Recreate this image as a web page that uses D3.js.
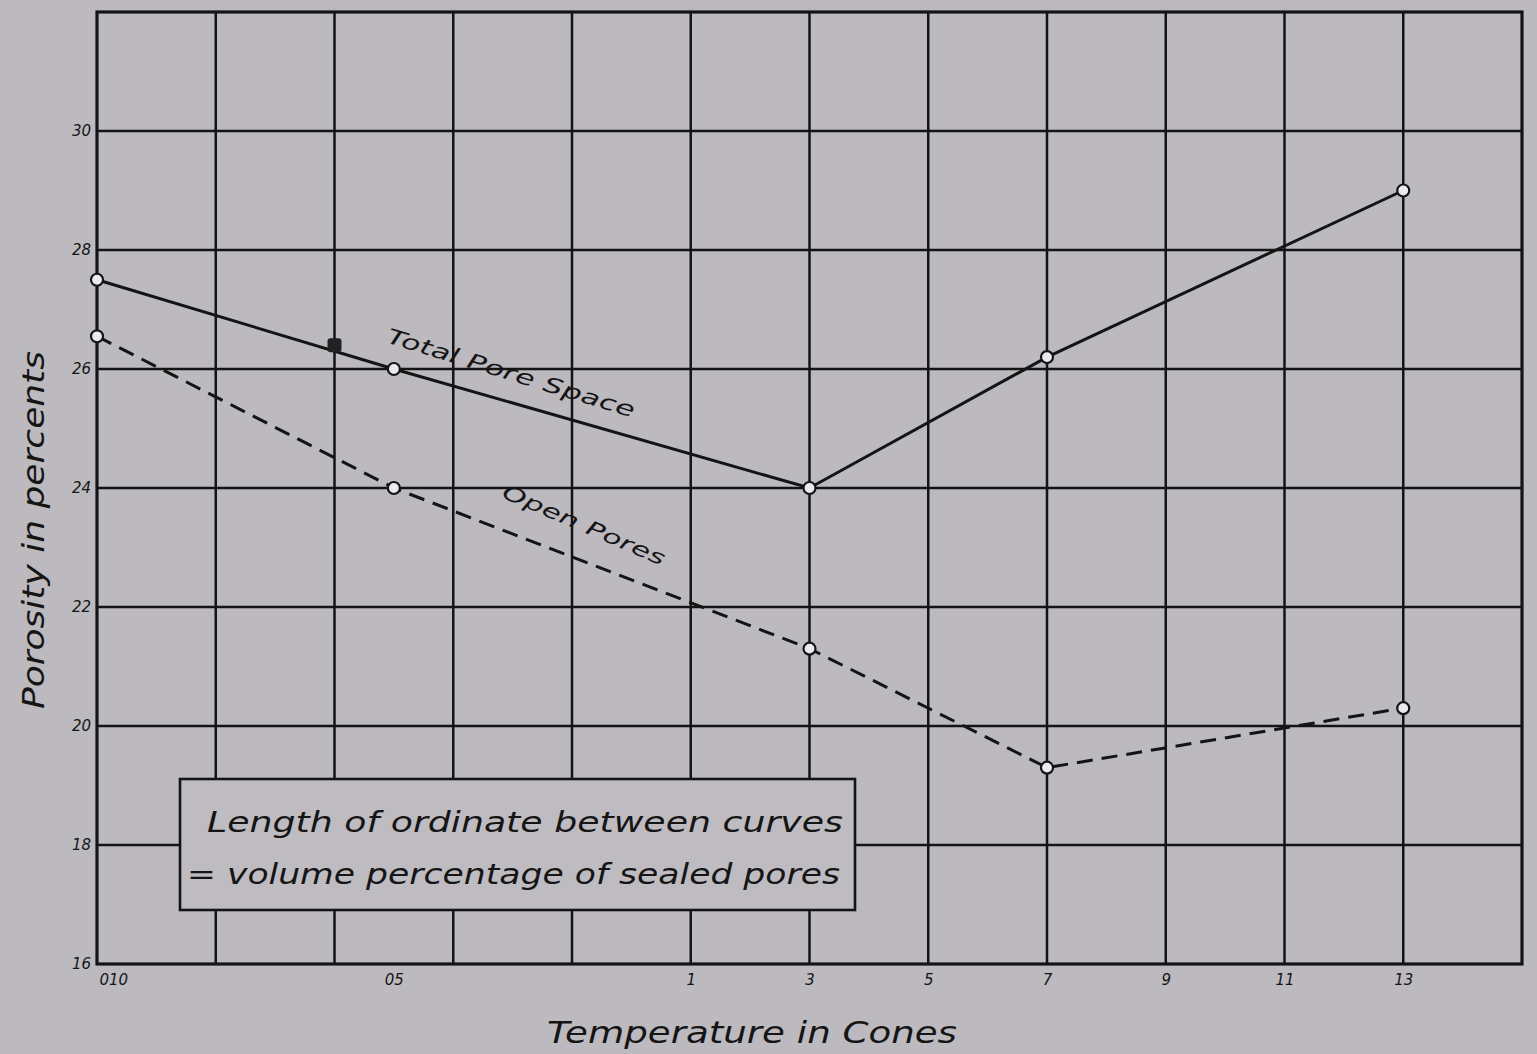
<!DOCTYPE html>
<html>
<head>
<meta charset="utf-8">
<script src="https://cdn.jsdelivr.net/npm/d3@7"></script>
<style>
  html, body { margin: 0; padding: 0; background: #bcb9bf; }
  svg { display: block; }
  text { font-family: "DejaVu Sans", sans-serif; font-style: italic; fill: #151515; }
</style>
</head>
<body>
<svg id="chart" width="1537" height="1054"></svg>
<script>
// ---- data ----
const conePositions = [0, 2.5, 6, 8, 11];           // position on cone axis (010, 05, 3, 7, 13)
const coneNames     = ["010", "05", "3", "7", "13"];
const totalPoreSpace = [27.5, 26.0, 24.0, 26.2, 29.0];
const openPores      = [26.55, 24.0, 21.3, 19.3, 20.3];
const extraPointPos  = [2];      // cone 06
const extraPointVal  = [26.4];   // filled marker on total curve
const xTickPositions = [0, 2.5, 5, 6, 7, 8, 9, 10, 11];
const xTickLabels    = ["010", "05", "1", "3", "5", "7", "9", "11", "13"];
const yTickValues    = [16, 18, 20, 22, 24, 26, 28, 30];
const yTickLabels    = ["16", "18", "20", "22", "24", "26", "28", "30"];
const xTitle = "Temperature in Cones";
const yTitle = "Porosity in percents";
const noteLines = ["Length of ordinate between curves", "= volume percentage of sealed pores"];
const seriesNames = ["Total Pore Space", "Open Pores"];

// ---- layout ----
const svg = d3.select("#chart");
const L = 97, R = 1522, T = 12, B = 964;
const x = d3.scaleLinear().domain([0, 12]).range([L, R]);
const y = d3.scaleLinear().domain([16, 32]).range([B, T]);
const ink = "#141414";

// grid
const grid = svg.append("g");
grid.selectAll("line.v").data(d3.range(1, 12)).join("line")
  .attr("x1", d => x(d)).attr("x2", d => x(d)).attr("y1", T).attr("y2", B)
  .attr("stroke", ink).attr("stroke-width", 2.5);
grid.selectAll("line.h").data(d3.range(18, 32, 2)).join("line")
  .attr("x1", L).attr("x2", R).attr("y1", d => y(d)).attr("y2", d => y(d))
  .attr("stroke", ink).attr("stroke-width", 2.5);
svg.append("rect").attr("x", L).attr("y", T).attr("width", R - L).attr("height", B - T)
  .attr("fill", "none").attr("stroke", ink).attr("stroke-width", 3.2);

// axes tick labels via d3 axes
const xAxis = d3.axisBottom(x).tickValues(xTickPositions)
  .tickFormat((d, i) => xTickLabels[i]).tickSize(0).tickPadding(10);
const gx = svg.append("g").attr("transform", `translate(0,${B})`).call(xAxis);
gx.select(".domain").remove();
gx.selectAll("text").attr("font-size", 15).attr("font-family", "DejaVu Sans").attr("font-style", "italic")
  .attr("fill", ink)
  .attr("text-anchor", (d, i) => i === 0 ? "start" : "middle")
  .attr("dx", (d, i) => i === 0 ? 2 : 0);

const yAxis = d3.axisLeft(y).tickValues(yTickValues)
  .tickFormat((d, i) => yTickLabels[i]).tickSize(0).tickPadding(6);
const gy = svg.append("g").attr("transform", `translate(${L},0)`).call(yAxis);
gy.select(".domain").remove();
gy.selectAll("text").attr("font-size", 15).attr("font-family", "DejaVu Sans").attr("font-style", "italic")
  .attr("fill", ink);

// note box
const bx0 = 180, bx1 = 855, by0 = 779, by1 = 910;
svg.append("rect").attr("x", bx0).attr("y", by0).attr("width", bx1 - bx0).attr("height", by1 - by0)
  .attr("fill", "#bebbc1").attr("stroke", ink).attr("stroke-width", 2.6);
svg.append("text").attr("x", 207).attr("y", 832).attr("font-size", 29)
  .attr("textLength", 636).attr("lengthAdjust", "spacingAndGlyphs").text(noteLines[0]);
svg.append("text").attr("x", 187).attr("y", 884).attr("font-size", 29)
  .attr("textLength", 653).attr("lengthAdjust", "spacingAndGlyphs").text(noteLines[1]);

// lines
const line = d3.line().x(d => x(d[0])).y(d => y(d[1]));
const totalData = conePositions.map((p, i) => [p, totalPoreSpace[i]]);
const openData = conePositions.map((p, i) => [p, openPores[i]]);
svg.append("path").datum(totalData).attr("d", line)
  .attr("fill", "none").attr("stroke", ink).attr("stroke-width", 3);
svg.append("path").datum(openData).attr("d", line)
  .attr("fill", "none").attr("stroke", ink).attr("stroke-width", 3)
  .attr("stroke-dasharray", "16,9");

// markers
svg.selectAll("circle.m").data(totalData.concat(openData)).join("circle")
  .attr("cx", d => x(d[0])).attr("cy", d => y(d[1])).attr("r", 6)
  .attr("fill", "#eceaee").attr("stroke", ink).attr("stroke-width", 2.2);
svg.selectAll("rect.f").data(extraPointPos.map((p, i) => [p, extraPointVal[i]])).join("rect")
  .attr("x", d => x(d[0]) - 7).attr("y", d => y(d[1]) - 7).attr("width", 14).attr("height", 14)
  .attr("rx", 3).attr("fill", "#222");

// curve labels
function angleBetween(a, b) {
  return Math.atan2(y(b[1]) - y(a[1]), x(b[0]) - x(a[0])) * 180 / Math.PI;
}
const totAng = angleBetween(totalData[1], totalData[2]) + 1;
svg.append("text")
  .attr("transform", `translate(${x(2.43)},${y(26.45)}) rotate(${totAng})`)
  .attr("font-size", 21).attr("textLength", 258).attr("lengthAdjust", "spacingAndGlyphs")
  .text(seriesNames[0]);
const openAng = angleBetween(openData[1], openData[2]) + 2;
svg.append("text")
  .attr("transform", `translate(${x(3.4)},${y(23.85)}) rotate(${openAng})`)
  .attr("font-size", 20).attr("textLength", 175).attr("lengthAdjust", "spacingAndGlyphs")
  .text(seriesNames[1]);

// axis titles
svg.append("text").attr("x", 752).attr("y", 1043).attr("text-anchor", "middle")
  .attr("font-size", 31).attr("textLength", 410).attr("lengthAdjust", "spacingAndGlyphs")
  .text(xTitle);
svg.append("text").attr("transform", "translate(44,530) rotate(-90)").attr("text-anchor", "middle")
  .attr("font-size", 30).attr("textLength", 358).attr("lengthAdjust", "spacingAndGlyphs")
  .text(yTitle);
</script>
</body>
</html>
